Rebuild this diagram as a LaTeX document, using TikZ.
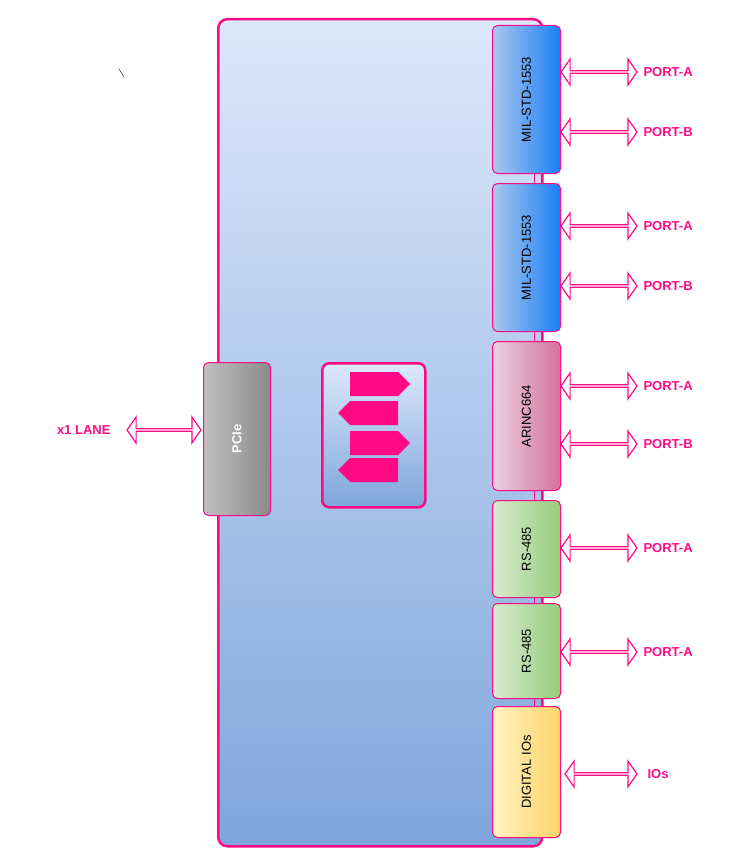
\documentclass[tikz,border=0pt]{standalone}
\usepackage{fontspec}
\setmainfont{Liberation Sans}
\usetikzlibrary{shapes.arrows}
\definecolor{pk}{HTML}{FF0A84}
\tikzset{
 blk/.style={draw=pk,line width=1pt,rounded corners=5pt},
 dbl/.style={double arrow,draw=pk,fill=white,line width=1.2pt,minimum height=76pt,minimum width=26pt,double arrow head extend=6pt,inner sep=0pt,double arrow tip angle=110},
 lbl/.style={text=pk,font=\bfseries\fontsize{13}{15}\selectfont,anchor=west},
 sw/.style={single arrow,fill=pk,minimum height=60pt,minimum width=24pt,single arrow head extend=0pt,inner sep=0pt,shape border rotate=#1},
 vt/.style={rotate=90,font=\fontsize{13}{15}\selectfont}
}
\begin{document}
\begin{tikzpicture}[x=1pt,y=-1pt]
\useasboundingbox (0,0) rectangle (750,864);
\draw (119,69) -- (124,77);
\node[blk,line width=2.5pt,rounded corners=9pt,top color={rgb,255:red,220;green,232;blue,251},bottom color={rgb,255:red,126;green,166;blue,220},minimum width=324pt,minimum height=827pt,anchor=north west] (main) at (217,18) {};
% interface blocks
\foreach \n/\t/\b/\lc/\rc/\txt in {m1/25/173/A9C8EE/1A7EF5/MIL-STD-1553, m2/183/331/A9C8EE/1A7EF5/MIL-STD-1553, ar/341/490/EAD0DE/D4739C/ARINC664, r1/500/597/D8EBD0/96CC7C/RS-485, r2/603/698/D8EBD0/96CC7C/RS-485, dg/706/837/FFF2C0/FCD36A/DIGITAL IOs}{
 \definecolor{lc}{HTML}{\lc}\definecolor{rc}{HTML}{\rc}
 \node[blk,left color=lc,right color=rc,minimum width=68pt,minimum height={\b-\t},anchor=north west] (\n) at (492,\t) {};
 \node[vt] at (\n.center) {\txt};
}
\foreach \a/\b in {m1/m2,m2/ar,ar/r1,r1/r2,r2/dg}{\draw[pk,line width=1pt] ([xshift=8pt]\a.south) -- ([xshift=8pt]\b.north);}
% PCIe
\node[blk,left color={rgb,255:red,192;green,192;blue,192},right color={rgb,255:red,138;green,138;blue,138},minimum width=67pt,minimum height=153pt,anchor=north west] (pcie) at (203,362) {};
\node[vt,text=white,font=\bfseries\fontsize{13}{15}\selectfont] at (pcie.center) {PCIe};
% switch
\node[blk,line width=2.5pt,rounded corners=7pt,top color={rgb,255:red,220;green,232;blue,251},bottom color={rgb,255:red,126;green,166;blue,220},minimum width=103pt,minimum height=144pt,anchor=north west] (sw) at (321,362) {};
\node[sw=0] (s1) at (374,384) {};
\node[sw=180] (s2) at (374,413) {};
\node[sw=0] (s3) at (374,443) {};
\node[sw=180] (s4) at (374,470) {};
% ports
\foreach \y/\t [count=\i] in {72/PORT-A,132/PORT-B,226/PORT-A,286/PORT-B,386/PORT-A,444/PORT-B,548/PORT-A,652/PORT-A}{
 \node[dbl] (d\i) at (599,\y) {};
 \node[lbl] (p\i) at (640,\y) {\t};
}
\node[dbl,minimum height=72pt] (d9) at (601,774) {};
\node[lbl] (p9) at (644,774) {IOs};
\node[dbl,minimum height=74pt] (dl) at (164,430) {};
\node[lbl,anchor=east] (lane) at (114,430) {x1 LANE};
\end{tikzpicture}
\end{document}
